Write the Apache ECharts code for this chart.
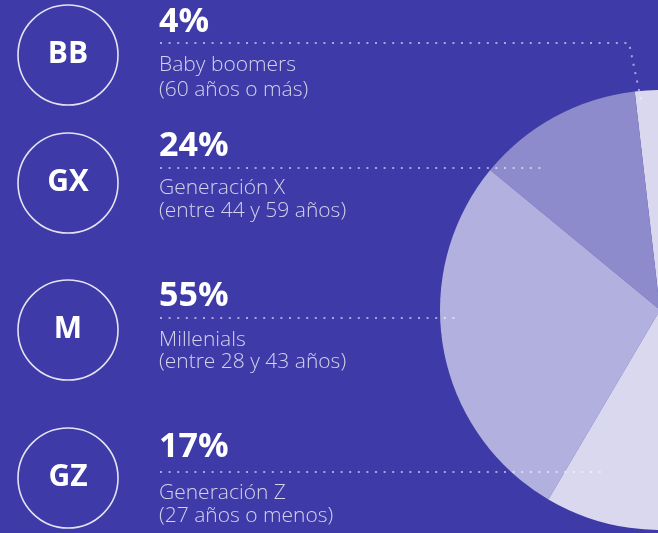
<!DOCTYPE html>
<html>
<head>
<meta charset="utf-8">
<script src="https://cdn.jsdelivr.net/npm/echarts@6/dist/echarts.min.js"></script>
<style>
html,body{margin:0;padding:0;background:#3e3ba8;}
#chart{width:658px;height:533px;}
</style>
</head>
<body>
<div id="chart"></div>
<script>
// ---- data ----
const codes = ['BB', 'GX', 'M', 'GZ'];
const shares = [4, 24, 55, 17];
const groups = ['Baby boomers', 'Generación X', 'Millenials', 'Generación Z'];
const ranges = ['(60 años o más)', '(entre 44 y 59 años)', '(entre 28 y 43 años)', '(27 años o menos)'];
// slice sizes as drawn in the picture's (partly hidden) pie, in percent
const pieShares = [4, 12.2, 27.5, 56.3];

// ---- layout / style ----
const circleY = [55, 183, 330, 478];
const pctY = [22, 146, 296, 447.5];
const line1Y = [65.5, 188.5, 340, 493.5];
const line2Y = [90, 211.5, 362.5, 516];
const leaderY = [43, 168, 318, 472];
const leaderEnd = [629, 542, 459, 605];
const sliceColors = ['#d9d8ee', '#8d8bcb', '#b1b0df', '#d9d8ee'];
const FONT = '"Open Sans", "Noto Sans", sans-serif';

const chart = echarts.init(document.getElementById('chart'), null, {renderer: 'canvas'});

const graphics = [];
codes.forEach((c, i) => {
  graphics.push({
    type: 'circle', z: 10,
    shape: {cx: 68, cy: circleY[i], r: 50},
    style: {fill: 'none', stroke: '#e4e3f3', lineWidth: 1.6}
  });
  graphics.push({
    type: 'text', z: 11, x: 68, y: circleY[i] - 1,
    style: {text: c, fill: '#ffffff', font: 'bold 30px ' + FONT, align: 'center', verticalAlign: 'middle'}
  });
  graphics.push({
    type: 'text', z: 11, x: 159, y: pctY[i],
    style: {text: shares[i] + '%', fill: '#ffffff', font: 'bold 34px ' + FONT, align: 'left', verticalAlign: 'middle'}
  });
  graphics.push({
    type: 'text', z: 11, x: 159, y: line1Y[i],
    style: {text: groups[i], fill: '#d3d2ea', font: '300 21px ' + FONT, align: 'left', verticalAlign: 'middle'}
  });
  graphics.push({
    type: 'text', z: 11, x: 159, y: line2Y[i],
    style: {text: ranges[i], fill: '#d3d2ea', font: '300 21px ' + FONT, align: 'left', verticalAlign: 'middle'}
  });
  const pts = [[160, leaderY[i]], [leaderEnd[i], leaderY[i]]];
  if (i === 0) pts.push([641, 100]);
  graphics.push({
    type: 'polyline', z: 12,
    shape: {points: pts},
    style: {stroke: 'rgba(255,255,255,0.55)', lineWidth: 2, lineDash: [2, 6.6], fill: 'none'}
  });
});

chart.setOption({
  backgroundColor: '#3e3ba8',
  animation: false,
  series: [{
    type: 'pie',
    silent: true,
    center: [660, 310],
    radius: 220,
    clockwise: false,
    startAngle: 82.2,
    label: {show: false},
    labelLine: {show: false},
    itemStyle: {borderWidth: 0},
    data: codes.map((c, i) => ({name: c, value: pieShares[i], itemStyle: {color: sliceColors[i]}}))
  }],
  graphic: graphics
});
</script>
</body>
</html>
